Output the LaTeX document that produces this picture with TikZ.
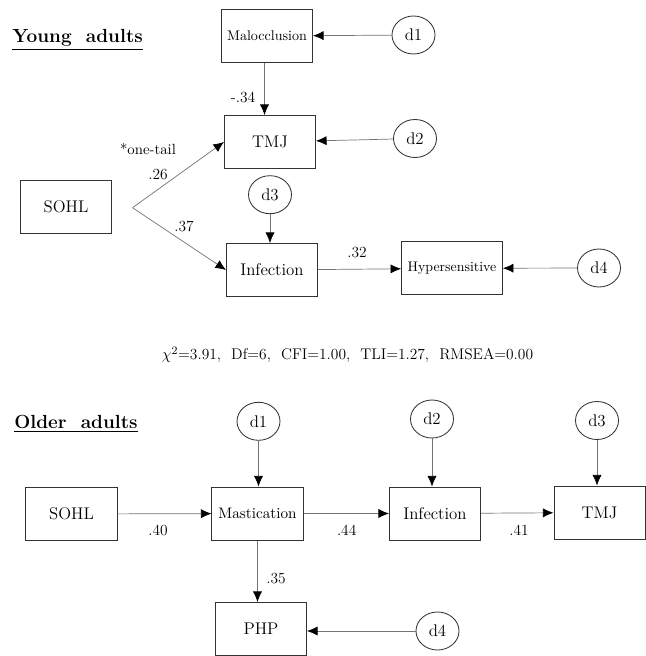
\documentclass[tikz,border=0pt]{standalone}
\usepackage{amsmath}
\usepackage{tikz}
\usetikzlibrary{arrows.meta,shapes.geometric}

\begin{document}
\begin{tikzpicture}
  [x=0.025cm,y=-0.025cm,
   box/.style={rectangle,draw=black!80,line width=0.7pt,minimum width=2.275cm,minimum height=1.325cm,inner sep=0pt,font=\fontsize{12}{14}\selectfont},
   err/.style={ellipse,draw=black!80,line width=0.6pt,minimum width=1.075cm,minimum height=0.95cm,inner sep=0pt,font=\fontsize{12}{14}\selectfont},
   coef/.style={inner sep=0pt,font=\fontsize{11}{13}\selectfont},
   title/.style={anchor=base west,inner sep=0pt,font=\fontsize{13.5}{16}\selectfont\bfseries},
   path/.style={draw=black!55,line width=0.5pt,-{Latex[length=7.5pt,width=6.5pt,color=black]}}]
  \useasboundingbox (0,0) rectangle (645,656);

  % young adults
  \node[title] (yt) at (12,43) {\underline{Young\ \ adults}};
  \node[box,font=\fontsize{10}{12}\selectfont] (mal) at (267,36) {Malocclusion};
  \node[err] (yd1) at (413.5,35) {d1};
  \node[box] (ytmj) at (270,142) {TMJ};
  \node[err] (yd2) at (415,138.5) {d2};
  \node[box] (ysohl) at (66,206.7) {SOHL};
  \coordinate (split) at (132.5,207.7);
  \node[err] (yd3) at (270,194.7) {d3};
  \node[box] (yinf) at (272,270) {Infection};
  \node[box,minimum width=2.52cm,font=\fontsize{9.9}{12}\selectfont] (hyp) at (452,268.3) {Hypersensitive};
  \node[err] (yd4) at (599,268) {d4};

  \foreach \from/\to in {yd1/mal,yd2/ytmj,split/ytmj.west,split/yinf.west,yinf/hyp,yd4/hyp}
    \draw[path] (\from) -- (\to);
  \draw[path] (mal.south -| 264.5,0) -- (ytmj.north -| 264.5,0);
  \draw[path] (yd3) -- (yd3 |- yinf.north);

  \node[coef] (c1) at (243,97) {-.34};
  \node[coef,font=\fontsize{10.5}{12}\selectfont] (note) at (148,149) {*one-tail};
  \node[coef] (c2) at (158,175) {.26};
  \node[coef] (c3) at (184,226.7) {.37};
  \node[coef] (c4) at (357,252.7) {.32};

  \node[coef] (gof) at (347.5,355)
    {$\chi^{2}$=3.91,\ \ Df=6,\ \ CFI=1.00,\ \ TLI=1.27,\ \ RMSEA=0.00};

  % older adults
  \node[title] (ot) at (14,428) {\underline{Older\ \ adults}};
  \node[err] (od1) at (258.5,421.3) {d1};
  \node[err] (od2) at (432,419) {d2};
  \node[err] (od3) at (597,420.5) {d3};
  \node[box] (osohl) at (71.5,514) {SOHL};
  \node[box,font=\fontsize{10.8}{13}\selectfont] (mas) at (257.5,513.5) {Mastication};
  \node[box] (oinf) at (435,513.5) {Infection};
  \node[box] (otmj) at (599.5,512.5) {TMJ};
  \node[box] (php) at (261,629) {PHP};
  \node[err] (od4) at (437.5,631) {d4};

  \foreach \from/\to in {osohl/mas,mas/oinf,oinf/otmj}
    \draw[path] (\from) -- (\to);
  \foreach \from/\to in {od1/mas,od2/oinf,od3/otmj,mas/php}
    \draw[path] (\from) -- (\from |- \to.north);
  \draw[path] (od4) -- (od4 -| php.east);

  \node[coef] (c5) at (158,530) {.40};
  \node[coef] (c6) at (346.7,530) {.44};
  \node[coef] (c7) at (519,530) {.41};
  \node[coef] (c8) at (276,579) {.35};

\end{tikzpicture}
\end{document}
